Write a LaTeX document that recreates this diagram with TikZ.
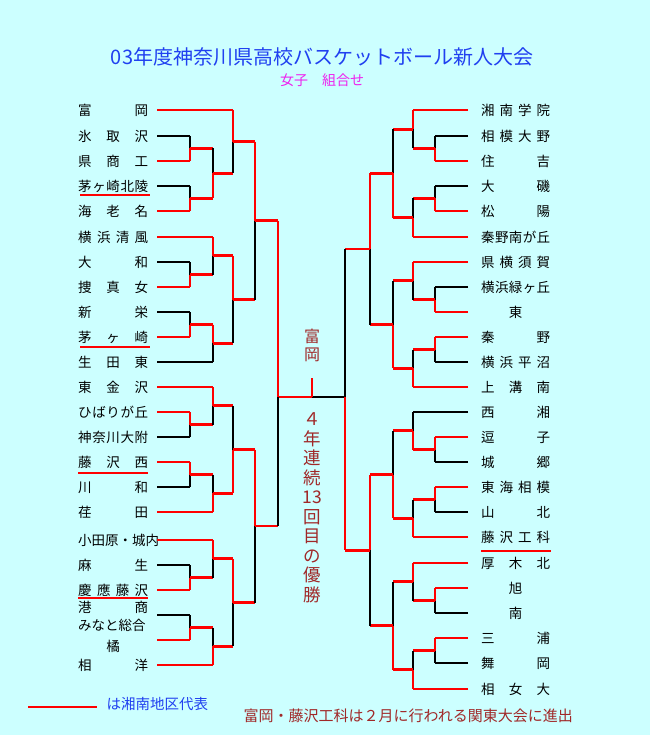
\documentclass[tikz,border=0pt]{standalone}
\usepackage{fontspec}
\setmainfont{Noto Sans CJK JP}
\definecolor{bgcyan}{HTML}{CCFFFF}
\definecolor{ttblue}{HTML}{2040F0}
\definecolor{ttpink}{HTML}{EE22EE}
\definecolor{ttbrown}{HTML}{A02828}
\tikzset{
  win/.style={draw=red, line width=2.8pt},
  lose/.style={draw=black, line width=1.6pt},
  team/.style={inner sep=0pt, font=\fontsize{13.5}{13.5}\selectfont, text width=70pt, anchor=west},
  uline/.style={draw=red, line width=1.6pt},
}
% one game: join x, top y, bottom y, out x, winner (1 top / 2 bottom)
\newcommand\bout[5]{%
  \pgfmathsetmacro\ym{(#2+#3)/2}%
  \ifnum#5=1
    \draw[win] (#1,#2) -- (#1,\ym); \draw[lose] (#1,\ym) -- (#1,#3);
  \else
    \draw[lose] (#1,#2) -- (#1,\ym); \draw[win] (#1,\ym) -- (#1,#3);
  \fi
  \draw[win] (#1,\ym) -- (#4,\ym);}
\begin{document}
\begin{tikzpicture}[x=1pt, y=-1pt]
  \fill[bgcyan] (0,0) rectangle (650,735);
  \useasboundingbox (0,0) rectangle (650,735);

  \node[text=ttblue, font=\fontsize{20}{20}\selectfont] (title) at (322,57) {03年度神奈川県高校バスケットボール新人大会};
  \node[text=ttpink, font=\fontsize{14}{14}\selectfont] (sub) at (322,80) {女子\quad 組合せ};

  % left teams
  \foreach \y/\t in {110/富\hfill 岡, 136/氷\hfill 取\hfill 沢, 161/県\hfill 商\hfill 工,
      186/茅\hfill ヶ\hfill 崎\hfill 北\hfill 陵, 211/海\hfill 老\hfill 名, 237/横\hfill 浜\hfill 清\hfill 風,
      262/大\hfill 和, 287/捜\hfill 真\hfill 女, 312/新\hfill 栄, 337/茅\hfill ヶ\hfill 崎,
      362/生\hfill 田\hfill 東, 387/東\hfill 金\hfill 沢, 412/ひ\hfill ば\hfill り\hfill が\hfill 丘,
      437/神\hfill 奈\hfill 川\hfill 大\hfill 附, 462/藤\hfill 沢\hfill 西, 487/川\hfill 和,
      512/荏\hfill 田, 565/麻\hfill 生,
      590/慶\hfill 應\hfill 藤\hfill 沢, 665/相\hfill 洋}
    \node[team] (L\y) at (78,\y) {\t};
  \node[team, text width=78pt] (L540) at (78,540) {小田原・城内};
  \node[team] (L608) at (78,607) {港\hfill 商};
  \node[team] (L626) at (78,625) {みなと総合};
  \node[team] (L646) at (78,646) {\hfill 橘\hfill\hbox{}};

  % right teams
  \foreach \y/\t in {110/湘\hfill 南\hfill 学\hfill 院, 136/相\hfill 模\hfill 大\hfill 野, 161/住\hfill 吉,
      186/大\hfill 磯, 211/松\hfill 陽, 237/秦\hfill 野\hfill 南\hfill が\hfill 丘, 262/県\hfill 横\hfill 須\hfill 賀,
      287/横\hfill 浜\hfill 緑\hfill ヶ\hfill 丘, 312/\hfill 東\hfill\hbox{}, 337/秦\hfill 野, 362/横\hfill 浜\hfill 平\hfill 沼,
      387/上\hfill 溝\hfill 南, 412/西\hfill 湘, 437/逗\hfill 子, 462/城\hfill 郷, 487/東\hfill 海\hfill 相\hfill 模,
      512/山\hfill 北, 537/藤\hfill 沢\hfill 工\hfill 科, 563/厚\hfill 木\hfill 北, 588/\hfill 旭\hfill\hbox{},
      613/\hfill 南\hfill\hbox{}, 638/三\hfill 浦, 663/舞\hfill 岡, 689/相\hfill 女\hfill 大}
    \node[team, text width=69pt] (R\y) at (481,\y) {\t};

  % underlines
  \draw[uline] (80,195) -- (150,195);
  \draw[uline] (80,347) -- (150,347);
  \draw[uline] (78,473) -- (148,473);
  \draw[uline] (78,598) -- (148,598);
  \draw[uline] (481,551) -- (551,551);

  % left leaves
  \foreach \y/\xe in {110/233, 161/190, 211/190, 237/213, 287/190, 337/190, 387/213, 412/190,
      462/190, 512/213, 540/213, 590/190, 640/190, 665/213}
    \draw[win] (157,\y) -- (\xe,\y);
  \foreach \y/\xe in {136/190, 186/190, 262/190, 312/190, 362/213, 437/190, 487/190, 565/190, 615/190}
    \draw[lose] (157,\y) -- (\xe,\y);

  % left games
  \bout{190}{136}{161}{213}{2}
  \bout{190}{186}{211}{213}{2}
  \bout{213}{148.5}{198.5}{233}{2}
  \bout{233}{110}{173.5}{255}{1}
  \bout{190}{262}{287}{213}{2}
  \bout{213}{237}{274.5}{233}{1}
  \bout{190}{312}{337}{213}{2}
  \bout{213}{324.5}{362}{233}{1}
  \bout{233}{255.75}{343.25}{255}{1}
  \bout{255}{141.75}{299.5}{278}{1}
  \bout{190}{412}{437}{213}{1}
  \bout{213}{387}{424.5}{233}{1}
  \bout{190}{462}{487}{213}{1}
  \bout{213}{474.5}{512}{233}{2}
  \bout{233}{405.75}{493.25}{255}{2}
  \bout{190}{565}{590}{213}{2}
  \bout{213}{540}{577.5}{233}{1}
  \bout{190}{615}{640}{213}{2}
  \bout{213}{627.5}{665}{233}{2}
  \bout{233}{558.75}{646.25}{255}{1}
  \bout{255}{449.5}{602.5}{278}{1}

  % right leaves
  \foreach \y/\xe in {110/413, 161/435, 211/435, 237/413, 262/413, 312/435, 337/435, 387/413,
      437/435, 487/435, 537/413, 563/413, 588/435, 638/435, 689/413}
    \draw[win] (468,\y) -- (\xe,\y);
  \foreach \y/\xe in {136/435, 186/435, 287/435, 362/435, 412/413, 462/435, 512/435, 613/435, 663/435}
    \draw[lose] (468,\y) -- (\xe,\y);

  % right games
  \bout{435}{136}{161}{413}{2}
  \bout{413}{110}{148.5}{393}{1}
  \bout{435}{186}{211}{413}{2}
  \bout{413}{198.5}{237}{393}{2}
  \bout{393}{129.25}{217.75}{370}{2}
  \bout{435}{287}{312}{413}{2}
  \bout{413}{262}{299.5}{393}{1}
  \bout{435}{337}{362}{413}{1}
  \bout{413}{349.5}{387}{393}{2}
  \bout{393}{280.75}{368.25}{370}{2}
  \bout{370}{173.5}{324.5}{345}{1}
  \bout{435}{437}{462}{413}{1}
  \bout{413}{412}{449.5}{393}{2}
  \bout{435}{487}{512}{413}{1}
  \bout{413}{499.5}{537}{393}{2}
  \bout{393}{430.75}{518.25}{370}{2}
  \bout{435}{588}{613}{413}{1}
  \bout{413}{563}{600.5}{393}{1}
  \bout{435}{638}{663}{413}{1}
  \bout{413}{650.5}{689}{393}{2}
  \bout{393}{581.75}{669.75}{370}{2}
  \bout{370}{474.5}{625.75}{345}{1}

  % final
  \coordinate (fin) at (312,397);
  \draw[win] (278,220.6) -- (278,397) -- (fin);
  \draw[lose] (278,397) -- (278,526);
  \draw[lose] (fin) -- (345,397);
  \draw[lose] (345,249) -- (345,397);
  \draw[win] (345,397) -- (345,550);
  \draw[win] (fin) -- (312,378);

  % champion
  \node[text=ttbrown, align=center, font=\fontsize{16}{18}\selectfont] (champ) at (312,345) {富\\岡};
  \node[text=ttbrown, align=center, font=\fontsize{17.5}{19.5}\selectfont] (streak) at (312,508)
    {４\\年\\連\\続\\13\\回\\目\\の\\優\\勝};

  % legend and note
  \coordinate (lg1) at (28,707);
  \coordinate (lg2) at (97,707);
  \draw[uline] (lg1) -- (lg2);
  \node[text=ttblue, anchor=west, font=\fontsize{14.5}{15}\selectfont] (legend) at (103,704) {は湘南地区代表};
  \node[text=ttbrown, anchor=west, font=\fontsize{15}{15}\selectfont] (note) at (240,716) {富岡・藤沢工科は２月に行われる関東大会に進出};
\end{tikzpicture}
\end{document}
